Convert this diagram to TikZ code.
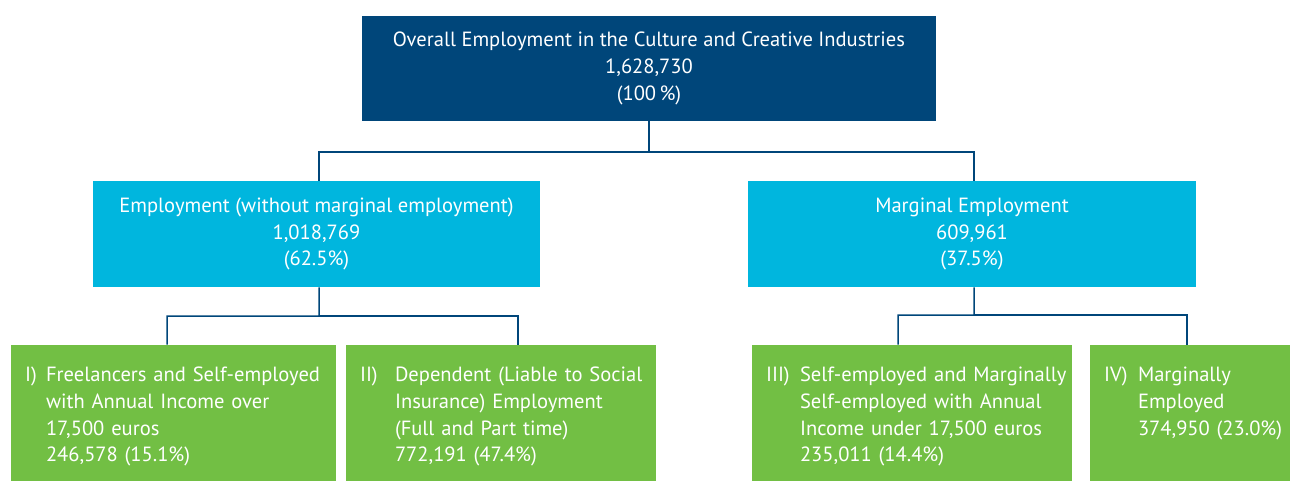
\documentclass[tikz,border=0pt]{standalone}
\usepackage{fontspec}
\setmainfont{PT Sans}
\usepackage{xcolor}
\usepackage{tikz}
\usetikzlibrary{positioning, calc}

\definecolor{topblue}{RGB}{0,70,122}
\definecolor{midcyan}{RGB}{0,182,222}
\definecolor{leafgreen}{RGB}{114,191,68}

% hanging label text for the bottom row
\newcommand{\leaftext}[3]{\parbox[c][2.72cm][t]{\linewidth}{\vspace*{0.36cm}\makebox[#1][l]{#2}\begin{tabular}[t]{@{}l@{}}#3\end{tabular}}}

\begin{document}
\begin{tikzpicture}[x=0.02cm, y=-0.02cm,
    every node/.style={text=white, font=\fontsize{11.7}{15.2}\selectfont},
    rootbox/.style={fill=topblue, minimum width=11.48cm, minimum height=2.1cm, align=center, inner sep=0pt},
    midbox/.style={fill=midcyan, minimum width=8.95cm, minimum height=2.12cm, align=center, inner sep=0pt},
    leaf/.style={fill=leafgreen, inner xsep=0.28cm, inner ysep=0pt, align=left},
    link/.style={draw=topblue, line width=0.85pt}]
        \useasboundingbox (0,0) rectangle (1293,481);

        % levels
        \node[rootbox] (total) at (649,68.5) {Overall Employment in the Culture and Creative Industries\\1,628,730\\(100\,\%)};
        \node[midbox] (regular) at (316.5,234) {Employment (without marginal employment)\\1,018,769\\(62.5\%)};
        \node[midbox] (marginal) at (972,234) {Marginal Employment\\609,961\\(37.5\%)};

        \node[leaf, text width=5.94cm] (freelance) at (173.5,413) {\leaftext{0.42cm}{I)}{Freelancers and Self-employed\\with Annual Income over\\17,500 euros\\246,578 (15.1\%)}};
        \node[leaf, text width=5.64cm] (dependent) at (501,413) {\leaftext{0.7cm}{II)}{Dependent (Liable to Social\\Insurance) Employment\\(Full and Part time)\\772,191 (47.4\%)}};
        \node[leaf, text width=5.84cm] (selfmarg) at (912,413) {\leaftext{0.68cm}{III)}{Self-employed and Marginally\\Self-employed with Annual\\Income under 17,500 euros\\235,011 (14.4\%)}};
        \node[leaf, text width=3.44cm] (margemp) at (1190,413) {\leaftext{0.68cm}{IV)}{Marginally\\Employed\\374,950 (23.0\%)}};

        % connectors
        \coordinate (split0) at (649,152);
        \coordinate (split1) at (319,316);
        \coordinate (split2) at (974,315);
        \draw[link] (total.south) -- (split0) -| ([xshift=0.05cm]regular.north);
        \draw[link] (split0) -| ([xshift=0.04cm]marginal.north);
        \draw[link] ([xshift=0.05cm]regular.south) -- (split1) -| ([xshift=-0.13cm]freelance.north);
        \draw[link] (split1) -| ([xshift=0.34cm]dependent.north);
        \draw[link] ([xshift=0.04cm]marginal.south) -- (split2) -| ([xshift=-0.28cm]selfmarg.north);
        \draw[link] (split2) -| ([xshift=-0.06cm]margemp.north);

    \end{tikzpicture}
\end{document}
